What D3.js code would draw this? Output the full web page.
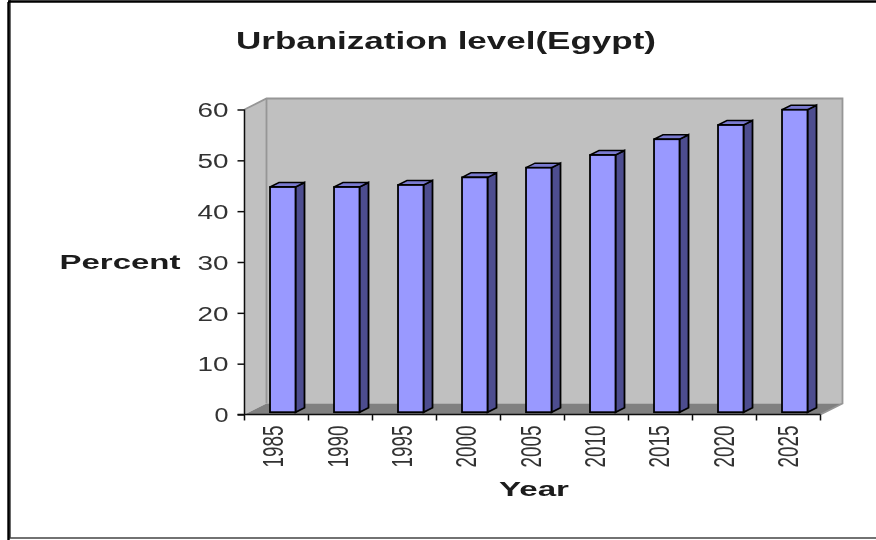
<!DOCTYPE html>
<html><head><meta charset="utf-8">
<script src="https://cdn.jsdelivr.net/npm/d3@7"></script>
<style>html,body{margin:0;padding:0;background:#fff}svg{display:block}text{font-family:"Liberation Sans",Arial,sans-serif;fill:#1a1a1a}</style>
</head><body><div id="c"></div>
<script>
const years=["1985","1990","1995","2000","2005","2010","2015","2020","2025"];
const percent=[44.3,44.3,44.7,46.2,48.1,50.6,53.7,56.5,59.5];
const yTicks=[0,10,20,30,40,50,60];
const titleText="Urbanization level(Egypt)", yTitle="Percent", xTitle="Year";

const W=876,H=540;
const svg=d3.select("#c").append("svg").attr("width",W).attr("height",H);
const f=svg.append("defs").append("filter").attr("id","soft").attr("x","-5%").attr("y","-5%").attr("width","110%").attr("height","110%");
f.append("feGaussianBlur").attr("stdDeviation",0.4);
const root=svg.append("g").attr("filter","url(#soft)");

// picture frame
root.append("path").attr("d",`M10 -2V538H880`).attr("fill","none").attr("stroke","#444").attr("stroke-width",1.6);
root.append("path").attr("d",`M8.5 2V540M8 1.5H880`).attr("fill","none").attr("stroke","#000").attr("stroke-width",2.4);

const x0=244.5,x1=820.5,yB=414.5,yT=109.5,dx=22,dy=-11;
const x=d3.scaleBand().domain(years).range([x0,x1]).paddingInner(0);
const y=d3.scaleLinear().domain([0,60]).range([yB,yT]);
const labelX=d3.scalePoint().domain(years).range([272.5,787]);

// walls
const poly=(pts,fill)=>root.append("polygon").attr("points",pts.map(p=>p.join(",")).join(" ")).attr("fill",fill);
poly([[x0+dx,yT+dy],[x1+dx,yT+dy],[x1+dx,yB+dy],[x0+dx,yB+dy]],"#c0c0c0");
poly([[x0,yT],[x0+dx,yT+dy],[x0+dx,yB+dy],[x0,yB]],"#c0c0c0");
poly([[x0,yB],[x0+dx,yB+dy],[x1+dx,yB+dy],[x1,yB]],"#808080");
root.append("path").attr("d",`M${x0} ${yT}L${x0+dx} ${yT+dy}H${x1+dx}V${yB+dy}L${x1} ${yB}M${x0+dx} ${yT+dy}V${yB+dy}`)
  .attr("fill","none").attr("stroke","#969696").attr("stroke-width",1.8);

// bars
const bw=25.5,bdx=9,bdy=-4.5,off=25.5,base=412.2;
const g=root.append("g").selectAll("g").data(years.map((d,i)=>({d,v:percent[i]}))).join("g");
g.each(function(r){
  const s=d3.select(this),l=x(r.d)+off,t=base-(y(0)-y(r.v)),b=base;
  const a=pts=>pts.map(p=>p.join(",")).join(" ");
  s.append("polygon").attr("points",a([[l+bw,t],[l+bw+bdx,t+bdy],[l+bw+bdx,b+bdy],[l+bw,b]])).attr("fill","#4d4d8f").attr("stroke","#000").attr("stroke-width",1.8);
  s.append("polygon").attr("points",a([[l,t],[l+bdx,t+bdy],[l+bw+bdx,t+bdy],[l+bw,t]])).attr("fill","#7a7ad0").attr("stroke","#000").attr("stroke-width",1.5);
  s.append("rect").attr("x",l).attr("y",t).attr("width",bw).attr("height",b-t).attr("fill","#9999ff").attr("stroke","#000").attr("stroke-width",1.8);
});

// axes
const ax=root.append("g").attr("transform",`translate(${x0},0)`).call(d3.axisLeft(y).tickValues(yTicks).tickSize(7).tickPadding(9));
ax.selectAll("path,line").attr("stroke","#111").attr("stroke-width",1.5);
ax.select(".domain").attr("d",`M0 ${yT}V${yB}`);
ax.selectAll("text").attr("style","font-family:'Liberation Sans';font-size:20px;fill:#333").attr("dy","0.36em")
  .attr("lengthAdjust","spacingAndGlyphs").attr("textLength",d=>d===0?14:31);

const bx=root.append("g").attr("transform",`translate(0,${yB})`);
bx.append("line").attr("x1",x0-7).attr("x2",x1).attr("stroke","#111").attr("stroke-width",1.5);
bx.selectAll("line.t").data(d3.range(years.length+1)).join("line").attr("class","t")
  .attr("x1",i=>x0+i*x.step()).attr("x2",i=>x0+i*x.step()).attr("y1",0).attr("y2",6).attr("stroke","#111").attr("stroke-width",1.5);
bx.selectAll("text").data(years).join("text")
  .attr("transform",d=>`translate(${labelX(d)},11) rotate(-90)`)
  .attr("text-anchor","end").attr("dy","0.36em").attr("font-size",30).style("fill","#333")
  .attr("textLength",42).attr("lengthAdjust","spacingAndGlyphs").text(d=>d);

root.append("text").attr("x",446).attr("y",49).attr("text-anchor","middle").attr("font-size",23).attr("font-weight","bold")
  .attr("textLength",420).attr("lengthAdjust","spacingAndGlyphs").text(titleText);
root.append("text").attr("x",120).attr("y",269).attr("text-anchor","middle").attr("font-size",20).attr("font-weight","bold")
  .attr("textLength",121).attr("lengthAdjust","spacingAndGlyphs").text(yTitle);
root.append("text").attr("x",534).attr("y",496).attr("text-anchor","middle").attr("font-size",20).attr("font-weight","bold")
  .attr("textLength",70).attr("lengthAdjust","spacingAndGlyphs").text(xTitle);
</script></body></html>
